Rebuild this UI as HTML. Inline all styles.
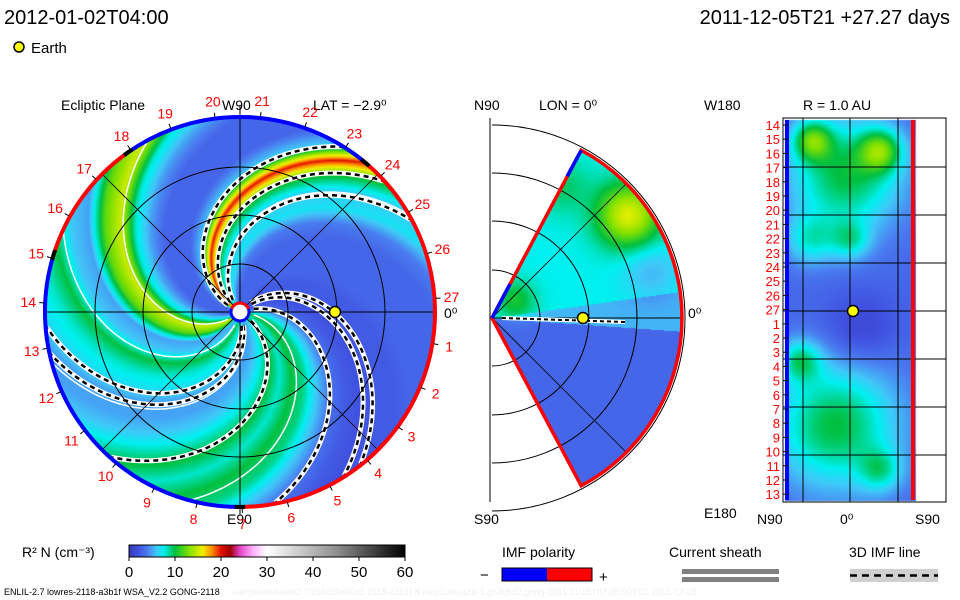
<!DOCTYPE html>
<html><head><meta charset="utf-8"><style>
body{margin:0;background:#fff;width:960px;height:600px;overflow:hidden;position:relative;font-family:"Liberation Sans",sans-serif}
canvas,svg{position:absolute;left:0;top:0}
</style></head><body>
<canvas id="cv" width="960" height="600"></canvas>
<svg id="sv" width="960" height="600" viewBox="0 0 960 600" font-family="Liberation Sans, sans-serif">
<text x="4" y="24" font-size="20" fill="#000">2012-01-02T04:00</text>
<text x="950" y="24" font-size="20" text-anchor="end" fill="#000">2011-12-05T21 +27.27 days</text>
<circle cx="19" cy="47" r="5" fill="#ffff00" stroke="#000" stroke-width="1.5"/>
<text x="31" y="53" font-size="15">Earth</text>
<text x="61" y="110" font-size="14">Ecliptic Plane</text>
<text x="222" y="110" font-size="14">W90</text>
<text x="313" y="110" font-size="14">LAT = −2.9⁰</text>
<text x="227" y="524" font-size="14">E90</text>
<text x="444" y="318" font-size="14">0⁰</text>
<text x="474" y="110" font-size="14">N90</text>
<text x="539" y="110" font-size="14">LON = 0⁰</text>
<text x="474" y="524" font-size="14">S90</text>
<text x="688" y="318" font-size="14">0⁰</text>
<text x="704" y="110" font-size="14">W180</text>
<text x="803" y="110" font-size="14">R = 1.0 AU</text>
<text x="704" y="518" font-size="14">E180</text>
<text x="757" y="524" font-size="14">N90</text>
<text x="840" y="524" font-size="14">0⁰</text>
<text x="915" y="524" font-size="14">S90</text>
<g id="ov"></g>
<text x="22" y="557" font-size="14">R² N (cm⁻³)</text>
<text x="502" y="557" font-size="14">IMF polarity</text>
<text x="480" y="580" font-size="15">−</text>
<rect x="502" y="568" width="45" height="13" fill="#0000ff"/>
<rect x="547" y="568" width="45" height="13" fill="#ff0000"/>
<rect x="502" y="568" width="90" height="13" fill="none" stroke="#000"/>
<text x="599" y="582" font-size="15">+</text>
<text x="669" y="557" font-size="14">Current sheath</text>
<rect x="682" y="569" width="97" height="5" fill="#808080"/>
<rect x="682" y="577" width="97" height="5" fill="#808080"/>
<text x="849" y="557" font-size="14">3D IMF line</text>
<rect x="850" y="569" width="88" height="13" fill="#d0d0d0"/>
<line x1="850" y1="575.5" x2="938" y2="575.5" stroke="#000" stroke-width="2.5" stroke-dasharray="7 5"/>
<text x="4" y="595" font-size="9">ENLIL-2.7 lowres-2118-a3b1f WSA_V2.2 GONG-2118</text>
<text x="232" y="595" font-size="9" fill="#f0f0f0">xamples/wsaenl2.7/256x30x90x1.2118-a3b1f.8-mcp1umn1cd-1.g53q5d2.gong-2011:11:15T07:05:00TC0 2011-12-28</text>
</svg>
<script>
// colour scale
const cbTicks=[0,10,20,30,40,50,60];
const cmapVals=[0,2,4,6,7.5,10,13,16,18,20,22,24,27,30,45,60];
const cmapCols=['#3838b0','#4050e0','#4a7cf0','#40c8f8','#00f0f0','#00c040','#80e000','#f0f000','#ff9000','#e01000','#a00000','#e040c0','#ffb0ff','#ffffff','#909090','#000000'];
// ecliptic density profile along spiral (rim angle 0..350 step 10)
const rimAngles=[0,10,20,30,40,50,60,70,80,90,100,110,120,130,140,150,160,170,180,190,200,210,220,230,240,250,260,270,280,290,300,310,320,330,340,350];
const rimDensity=[3,3,3,3,2.5,2.5,2,2.5,3.5,6,9,10,8,10,8,6,5,5,7,8,10,6,5,12,15,8,5,3,3,3,6,20,10,6,7,4];
const carrLabels=[27,1,2,3,4,5,6,7,8,9,10,11,12,13,14,15,16,17,18,19,20,21,22,23,24,25,26];
const rightLabels=[14,15,16,17,18,19,20,21,22,23,24,25,26,27,1,2,3,4,5,6,7,8,9,10,11,12,13];

function hex(c){return [parseInt(c.substr(1,2),16),parseInt(c.substr(3,2),16),parseInt(c.substr(5,2),16)];}
const cmRGB=cmapCols.map(hex);
function cmap(v){v=Math.max(0,Math.min(60,v));for(let i=0;i<cmapVals.length-1;i++){if(v<=cmapVals[i+1]){const t=(v-cmapVals[i])/(cmapVals[i+1]-cmapVals[i]);const a=cmRGB[i],b=cmRGB[i+1];return [a[0]+(b[0]-a[0])*t,a[1]+(b[1]-a[1])*t,a[2]+(b[2]-a[2])*t];}}return cmRGB[cmRGB.length-1];}
function prof(a){a=((a%360)+360)%360;const i=Math.floor(a/10),t=(a-i*10)/10;return rimDensity[i]*(1-t)+rimDensity[(i+1)%36]*t;}
const g=(x,y,cx,cy,s)=>Math.exp(-((x-cx)**2+(y-cy)**2)/(2*s*s));

const cv=document.getElementById('cv'),ctx=cv.getContext('2d');
const img=ctx.createImageData(960,600),d=img.data;
const CX=240,CY=312,R=195,K=100;
const MX=492,MY=318,MR=190,MA=62;
function put(x,y,v){const c=cmap(v),i=(y*960+x)*4;d[i]=c[0];d[i+1]=c[1];d[i+2]=c[2];d[i+3]=255;}
for(let y=0;y<600;y++)for(let x=0;x<960;x++){
  const dx=x-CX,dy=y-CY,r=Math.hypot(dx,dy);
  if(r<=R){let th=Math.atan2(dy,dx)*180/Math.PI;put(x,y,prof(th+K*(1-r/R)));continue;}
  const mx=x-MX,my=y-MY,mr=Math.hypot(mx,my);
  if(mx>0&&mr<=MR){const lat=-Math.atan2(my,mx)*180/Math.PI;if(Math.abs(lat)<=MA){
    let v=lat>8?7.5:lat>-4?5.5:3;
    v+=8*g(x,y,628,215,22)+3*g(x,y,515,300,14)+2*g(x,y,560,185,20)-2*g(x,y,650,270,20);
    put(x,y,v);continue;}}
  if(x>=785&&x<=915&&y>=120&&y<=500){
    let v=3;
    v+=7*g(x,y,845,175,40)+7*g(x,y,812,140,14)+7*g(x,y,880,150,15)+4*g(x,y,810,240,18)+4*g(x,y,850,240,14);
    v+=7*g(x,y,835,425,45)+5*g(x,y,800,360,15)+4*g(x,y,880,470,15)-2*g(x,y,860,330,25);
    put(x,y,v);}
}
ctx.putImageData(img,0,0);

const NS='http://www.w3.org/2000/svg',ov=document.getElementById('ov');
function mk(tag,at,name){const e=document.createElementNS(NS,tag);for(const k in at)e.setAttribute(k,at[k]);


ov.appendChild(e);return e;}
function P(cx,cy,r,a){a=a*Math.PI/180;return [cx+r*Math.cos(a),cy+r*Math.sin(a)];}
function arc(cx,cy,r,a1,a2){const p=P(cx,cy,r,a1),q=P(cx,cy,r,a2);return `M${p[0]},${p[1]} A${r},${r} 0 ${Math.abs(a2-a1)>180?1:0} 1 ${q[0]},${q[1]}`;}
// spirals
function spiral(rim,r0){let s='';for(let r=r0;r<=R-1;r+=3){const p=P(CX,CY,r,rim-K*(1-r/R));s+=(s?'L':'M')+p[0].toFixed(1)+','+p[1].toFixed(1);}return s;}
const whiteArms=[105,165,205,242,330];
const dashedArms=[302,318,332,52,58,168,176,132,80];
whiteArms.forEach(a=>mk('path',{d:spiral(a,14),fill:'none',stroke:'#fff','stroke-width':1.5},'white-sheath-line'));
dashedArms.forEach(a=>{mk('path',{d:spiral(a,14),fill:'none',stroke:'#fff','stroke-width':5},'imf-line-bg');
mk('path',{d:spiral(a,14),fill:'none',stroke:'#000','stroke-width':2.5,'stroke-dasharray':'5 4'},'imf-line');});
// grid
[48,97,145].forEach(r=>mk('circle',{cx:CX,cy:CY,r:r,fill:'none',stroke:'#000','stroke-width':1},'ecliptic-ring'));
mk('line',{x1:CX-R,y1:CY,x2:CX+R,y2:CY,stroke:'#000'},'ecliptic-axis-h');
mk('line',{x1:CX,y1:CY-R-12,x2:CX,y2:CY+R+8,stroke:'#000'},'ecliptic-axis-v');
[45,135].forEach(a=>{const p=P(CX,CY,R,a),q=P(CX,CY,R,a+180);mk('line',{x1:p[0],y1:p[1],x2:q[0],y2:q[1],stroke:'#000','stroke-width':0.8},'ecliptic-diagonal');});
// rim polarity
const rimSegs=[[90,197,'#0000ff'],[197,235,'#ff0000'],[235,310,'#0000ff'],[310,450,'#ff0000']];
rimSegs.forEach(s=>mk('path',{d:arc(CX,CY,R,s[0],s[1]),fill:'none',stroke:s[2],'stroke-width':4},'rim-polarity'));
[197,235,310,90].forEach(a=>mk('path',{d:arc(CX,CY,R,a-1.5,a+1.5),fill:'none',stroke:'#000','stroke-width':4},'rim-sheath-mark'));
carrLabels.forEach((n,i)=>{const a=-4+i*360/27,p=P(CX,CY,212,a),t=P(CX,CY,R+1,a),t2=P(CX,CY,R+6,a);
mk('line',{x1:t[0],y1:t[1],x2:t2[0],y2:t2[1],stroke:'#000'},'carrington-tick');
const e=mk('text',{x:p[0],y:p[1]+5,'font-size':14,fill:'#ff0000','text-anchor':'middle'},'carrington-label');e.textContent=n;});
mk('circle',{cx:CX,cy:CY,r:9,fill:'#fff',stroke:'#0000ff','stroke-width':3},'sun-marker');
mk('path',{d:arc(CX,CY,9,200,340),fill:'none',stroke:'#ff0000','stroke-width':3},'sun-polarity');
mk('circle',{cx:335,cy:312,r:5.5,fill:'#ffff00',stroke:'#000','stroke-width':1.5},'earth-ecliptic');
// middle panel
mk('line',{x1:490,y1:118,x2:490,y2:502,stroke:'#000'},'meridional-axis');
[48,97,145,193].forEach(r=>mk('path',{d:arc(MX,MY,r,-90,90),fill:'none',stroke:'#000'},'meridional-ring'));
mk('line',{x1:MX,y1:MY,x2:MX+MR,y2:MY,stroke:'#000'},'meridional-equator');
[-45,45].forEach(a=>{const p=P(MX,MY,MR,a);mk('line',{x1:MX,y1:MY,x2:p[0],y2:p[1],stroke:'#000','stroke-width':0.8},'meridional-diagonal');});
const t1=P(MX,MY,MR,-MA),t2=P(MX,MY,MR,MA);
mk('path',{d:`M${MX},${MY} L${t1[0]},${t1[1]} A${MR},${MR} 0 0 1 ${t2[0]},${t2[1]} Z`,fill:'none',stroke:'#ff0000','stroke-width':3.5},'wedge-outline');
mk('line',{x1:MX,y1:MY,x2:MX+18,y2:MY-34,stroke:'#0000ff','stroke-width':3.5},'wedge-blue-segment');
mk('line',{x1:t1[0]-14,y1:t1[1]+26,x2:t1[0],y2:t1[1],stroke:'#0000ff','stroke-width':3.5},'wedge-blue-segment-top');
mk('line',{x1:MX+10,y1:MY,x2:625,y2:322,stroke:'#fff','stroke-width':4},'meridional-imf-bg');
mk('line',{x1:MX+10,y1:MY,x2:625,y2:322,stroke:'#000','stroke-width':2,'stroke-dasharray':'4 3'},'meridional-imf-line');
mk('circle',{cx:583,cy:318,r:5.5,fill:'#ffff00',stroke:'#000','stroke-width':1.5},'earth-meridional');
// right panel
mk('rect',{x:783,y:118,width:163,height:384,fill:'none',stroke:'#000'},'shell-frame');
[167,215,263,311,359,407,455].forEach(y=>mk('line',{x1:783,y1:y,x2:946,y2:y,stroke:'#000'},'shell-grid-h'));
[803,850,898].forEach(x=>mk('line',{x1:x,y1:118,x2:x,y2:502,stroke:'#000'},'shell-grid-v'));
mk('rect',{x:785,y:120,width:4,height:380,fill:'#0000ff'},'shell-left-polarity');
mk('rect',{x:911,y:120,width:4,height:380,fill:'#ff0000'},'shell-right-polarity');
rightLabels.forEach((n,i)=>{const y=125+i*14.2;
mk('line',{x1:783,y1:y,x2:788,y2:y,stroke:'#000'},'shell-tick');
const e=mk('text',{x:780,y:y+5,'font-size':13,fill:'#ff0000','text-anchor':'end'},'shell-carrington-label');e.textContent=n;});
mk('circle',{cx:853,cy:311,r:5.5,fill:'#ffff00',stroke:'#000','stroke-width':1.5},'earth-shell');
// colorbar
const cbX=129,cbW=276;
const grad=mk('linearGradient',{id:'cbg'},'colorbar-gradient');
cmapVals.forEach((v,i)=>{const s=document.createElementNS(NS,'stop');s.setAttribute('offset',v/60);s.setAttribute('stop-color',cmapCols[i]);grad.appendChild(s);});
mk('rect',{x:cbX,y:545,width:cbW,height:12,fill:'url(#cbg)',stroke:'#000'},'colorbar');
cbTicks.forEach(v=>{const x=cbX+v/60*cbW;mk('line',{x1:x,y1:557,x2:x,y2:561,stroke:'#000'},'colorbar-tick');
const e=mk('text',{x:x,y:577,'font-size':15,'text-anchor':'middle'},'colorbar-tick-label');e.textContent=v;});
</script>
</body></html>
